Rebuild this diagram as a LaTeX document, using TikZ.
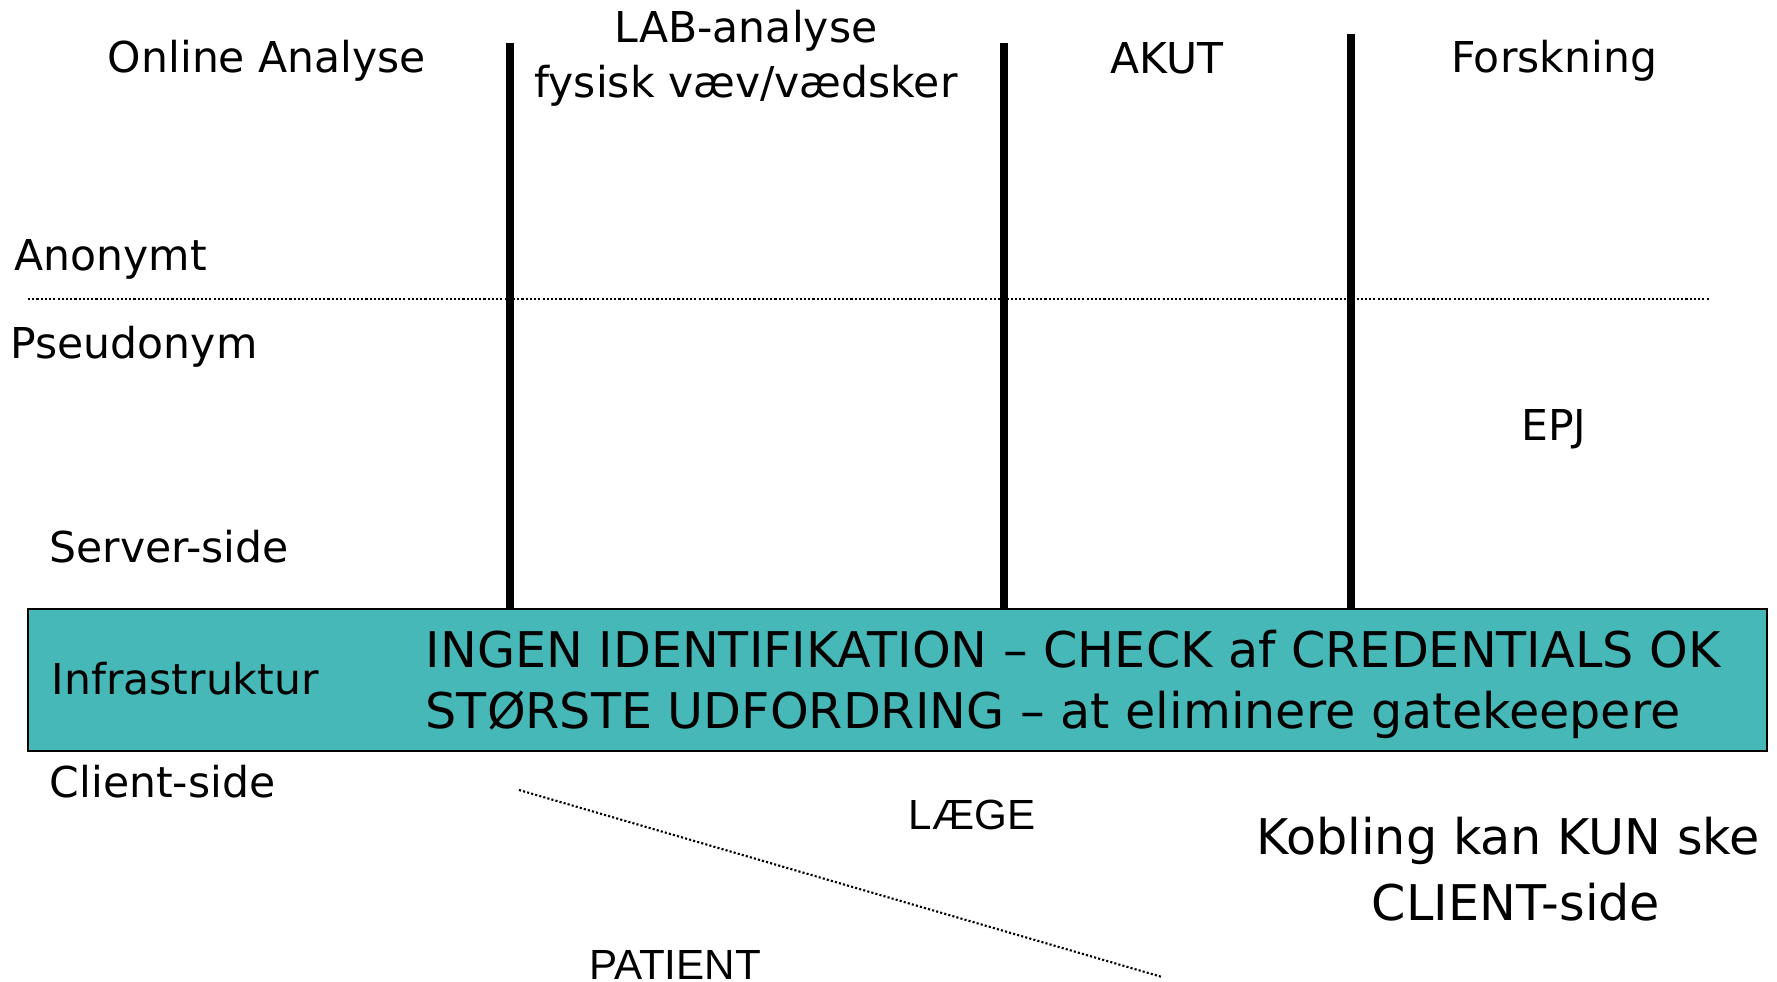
\documentclass[tikz,border=0pt]{standalone}
\usepackage{fontspec}
\setmainfont{DejaVu Sans}
\newfontfamily\arialfont{Liberation Sans}
\definecolor{infrateal}{RGB}{71,184,184}
\tikzset{
  lbl/.style={inner sep=0pt,font=\fontsize{12.1}{14}\selectfont},
  biglbl/.style={inner sep=0pt,font=\fontsize{14}{16}\selectfont},
  arlbl/.style={inner sep=0pt,font=\arialfont\fontsize{12}{14}\selectfont},
  divider/.style={line width=2.2pt},
  fineline/.style={line width=0.6pt,dash pattern=on 0.6pt off 0.6pt}
}
\begin{document}
\begin{tikzpicture}
    \useasboundingbox (0,0) rectangle (17.77,9.82);
    \draw[fineline] (0.28,6.83) -- (17.09,6.83);
    \draw[divider] (5.10,9.39) -- (5.10,3.73);
    \draw[divider] (10.04,9.39) -- (10.04,3.73);
    \draw[divider] (13.51,9.48) -- (13.51,3.73);
    \draw[fill=infrateal,line width=0.8pt] (0.28,2.31) rectangle (17.67,3.73);
    \draw[fineline] (5.19,1.92) -- (11.62,0.05);
    \node[lbl] (online) at (2.67,9.21) {Online Analyse};
    \node[lbl] (lab) at (7.46,9.51) {LAB-analyse};
    \node[lbl] (fysisk) at (7.46,8.96) {fysisk væv/vædsker};
    \node[lbl] (akut) at (11.67,9.24) {AKUT};
    \node[lbl] (forsk) at (15.54,9.21) {Forskning};
    \node[lbl,anchor=west] (anon) at (0.14,7.23) {Anonymt};
    \node[lbl,anchor=west] (pseudo) at (0.10,6.35) {Pseudonym};
    \node[lbl] (epj) at (15.54,5.53) {EPJ};
    \node[lbl,anchor=west] (server) at (0.49,4.35) {Server-side};
    \node[lbl,anchor=west] (infra) at (0.51,3.03) {Infrastruktur};
    \node[biglbl,anchor=west] (ingen) at (4.25,3.33)
    {INGEN IDENTIFIKATION – CHECK af CREDENTIALS OK};
    \node[biglbl,anchor=west] (stoerste) at (4.25,2.67)
    {STØRSTE UDFORDRING – at eliminere gatekeepere};
    \node[lbl,anchor=west] (client) at (0.49,2.00) {Client-side};
    \node[arlbl] (laege) at (9.72,1.67) {LÆGE};
    \node[biglbl] (kobling) at (15.08,1.41) {Kobling kan KUN ske};
    \node[biglbl] (clientside) at (15.16,0.80) {CLIENT-side};
    \node[arlbl] (patient) at (6.75,0.17) {PATIENT};
  \end{tikzpicture}
\end{document}
